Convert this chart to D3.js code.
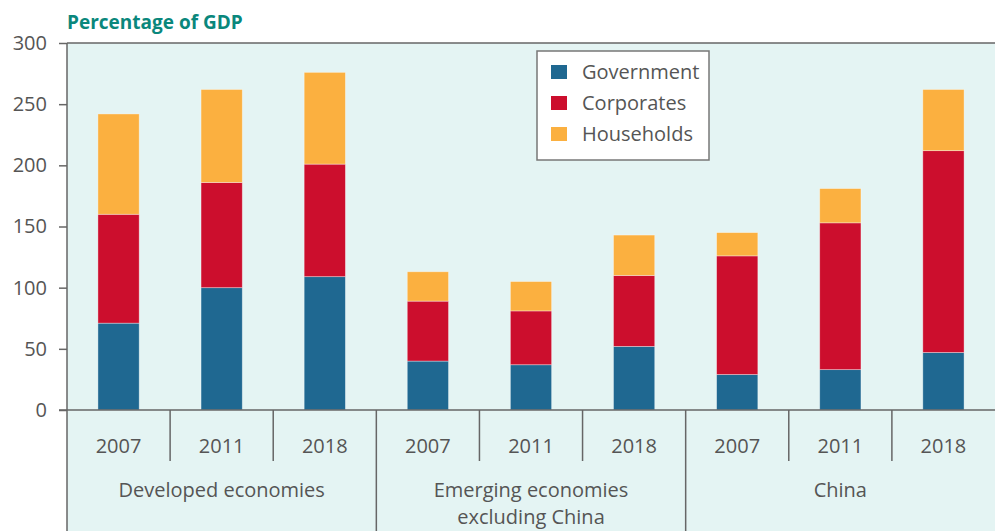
<!DOCTYPE html>
<html>
<head>
<meta charset="utf-8">
<script src="https://cdnjs.cloudflare.com/ajax/libs/d3/7.8.5/d3.min.js"></script>
<style>
  body { margin: 0; background: #fff; }
  svg text { font-family: "Open Sans", "Noto Sans", sans-serif; fill: #555; }
</style>
</head>
<body>
<div id="chart"></div>
<script>
// data (percentage of GDP)
const groups = ['Developed economies', 'Emerging economies|excluding China', 'China']
const years = ['2007', '2011', '2018']
const government = [71, 100, 109, 40, 37, 52, 29, 33, 47]
const corporates = [89, 86, 92, 49, 44, 58, 97, 120, 165]
const households = [82, 76, 75, 24, 24, 33, 19, 28, 50]
const seriesNames = ['Government', 'Corporates', 'Households']
const seriesColors = ['#1f6891', '#cc0e2d', '#fbb040']
const yTicks = [0, 50, 100, 150, 200, 250, 300]

const width = 995
const height = 531
const margin = {left: 67, top: 43, right: 0, bottom: 121}
const x0 = margin.left
const x1 = width - margin.right
const yBase = height - margin.bottom

// one row per bar
const rows = []
groups.forEach((g, gi) => {
  years.forEach((yr, yi) => {
    const i = gi * years.length + yi
    rows.push({key: g + '-' + yr, group: g, year: yr,
      Government: government[i], Corporates: corporates[i], Households: households[i]})
  })
})

const svg = d3.select('#chart')
  .append('svg')
  .attr('width', width)
  .attr('height', height)

// plot background, runs down under the category labels
svg.append('rect')
  .attr('x', x0)
  .attr('y', margin.top)
  .attr('width', x1 - x0)
  .attr('height', height - margin.top)
  .attr('fill', '#e4f4f3')

const x = d3.scaleBand()
  .domain(rows.map(d => d.key))
  .range([x0, x1])
  .paddingInner(0.6)
  .paddingOuter(0.3)

const y = d3.scaleLinear()
  .domain([0, 300])
  .range([yBase, margin.top])

const color = d3.scaleOrdinal()
  .domain(seriesNames)
  .range(seriesColors)

const stacked = d3.stack().keys(seriesNames)(rows)

svg.append('g')
  .selectAll('g')
  .data(stacked)
  .enter()
  .append('g')
  .attr('fill', d => color(d.key))
  .selectAll('rect')
  .data(d => d)
  .enter()
  .append('rect')
  .attr('x', d => x(d.data.key))
  .attr('y', d => y(d[1]))
  .attr('width', x.bandwidth())
  .attr('height', d => y(d[0]) - y(d[1]))
  .attr('stroke', 'rgba(255,255,255,0.45)')
  .attr('stroke-width', 0.8)

// y axis
const yAxis = svg.append('g')
  .attr('transform', `translate(${x0},0)`)
  .call(d3.axisLeft(y).tickValues(yTicks).tickSize(8).tickPadding(12))
yAxis.select('.domain').remove()
yAxis.selectAll('line').attr('stroke', '#666').attr('stroke-width', 1.5)
yAxis.selectAll('text').style('font-size', '20px').attr('fill', '#555')

const lineColor = '#666'
// left line all the way down, top border, zero line
svg.append('line')
  .attr('x1', x0).attr('x2', x0)
  .attr('y1', margin.top).attr('y2', height)
  .attr('stroke', lineColor).attr('stroke-width', 1.5)
svg.append('line')
  .attr('x1', x0).attr('x2', x1)
  .attr('y1', margin.top).attr('y2', margin.top)
  .attr('stroke', lineColor).attr('stroke-width', 1.5)
svg.append('line')
  .attr('x1', x0 - 8).attr('x2', x1)
  .attr('y1', yBase).attr('y2', yBase)
  .attr('stroke', lineColor).attr('stroke-width', 1.5)

// category axis: dividers between bars
const step = x.step()
const left = d => x(d) - (x.paddingInner() * step) / 2
rows.forEach((d, i) => {
  if (i === 0) return
  const isGroup = i % years.length === 0
  svg.append('line')
    .attr('x1', left(d.key)).attr('x2', left(d.key))
    .attr('y1', yBase).attr('y2', isGroup ? height : yBase + 51)
    .attr('stroke', lineColor).attr('stroke-width', 1.5)
})

svg.append('g')
  .selectAll('text')
  .data(rows)
  .enter()
  .append('text')
  .attr('x', d => x(d.key) + x.bandwidth() / 2)
  .attr('y', yBase + 43)
  .attr('text-anchor', 'middle')
  .style('font-size', '20px')
  .text(d => d.year)

groups.forEach((g, gi) => {
  const first = rows[gi * years.length].key
  const last = rows[gi * years.length + years.length - 1].key
  const cx = (left(first) + left(last) + step) / 2
  const t = svg.append('text')
    .attr('x', cx)
    .attr('y', yBase + 87)
    .attr('text-anchor', 'middle')
    .style('font-size', '20px')
  g.split('|').forEach((line, li) => {
    t.append('tspan')
      .attr('x', cx)
      .attr('dy', li === 0 ? 0 : 26.5)
      .text(line)
  })
})

// title
svg.append('text')
  .attr('x', x0)
  .attr('y', 29)
  .style('font-size', '19px')
  .style('font-weight', 'bold')
  .style('fill', '#0a877c')
  .text('Percentage of GDP')

// legend
const legend = svg.append('g').attr('transform', 'translate(537,51)')
legend.append('rect')
  .attr('width', 172)
  .attr('height', 109)
  .attr('fill', '#fff')
  .attr('stroke', '#777')
  .attr('stroke-width', 1.5)
const item = legend.selectAll('g.item')
  .data(seriesNames)
  .enter()
  .append('g')
  .attr('class', 'item')
  .attr('transform', (d, i) => `translate(14,${21 + i * 31})`)
item.append('rect')
  .attr('y', -7)
  .attr('width', 16)
  .attr('height', 14)
  .attr('fill', d => color(d))
item.append('text')
  .attr('x', 31)
  .attr('dy', '0.36em')
  .style('font-size', '20px')
  .text(d => d)
</script>
</body>
</html>
